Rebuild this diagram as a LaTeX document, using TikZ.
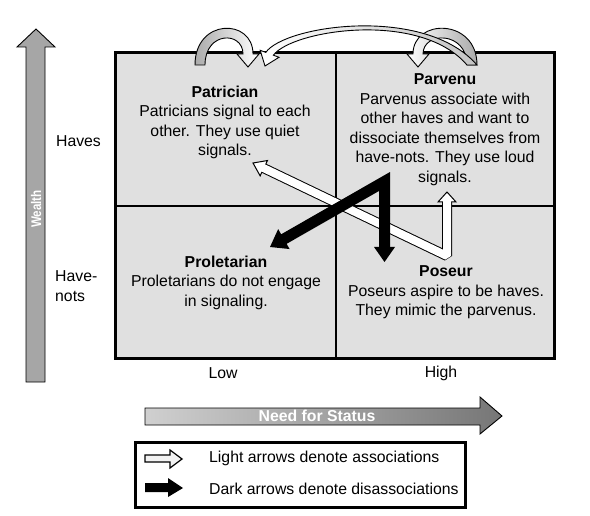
\documentclass[tikz,border=0pt]{standalone}
\usepackage{fontspec}
\setmainfont{Liberation Sans}
\usetikzlibrary{calc}
\definecolor{boxgray}{RGB}{224,224,224}
\definecolor{wealthgray}{RGB}{166,166,166}
\definecolor{needleft}{RGB}{208,208,208}
\definecolor{needright}{RGB}{118,118,118}
\definecolor{loopgray}{RGB}{170,170,170}
\definecolor{iconlight}{RGB}{242,242,242}
\begin{document}
\begin{tikzpicture}[x=1pt,y=-1pt,
  txt/.style={font=\fontsize{15.8}{19.5}\selectfont, align=center, inner sep=0pt},
  lbl/.style={font=\fontsize{15.8}{19.5}\selectfont, inner sep=0pt},
  axislbl/.style={font=\bfseries\fontsize{15.8}{19}\selectfont, text=white, inner sep=0pt},
  outline/.style={draw=black, line width=0.9pt, line join=miter}]
\useasboundingbox (0,0) rectangle (590,516);

% quadrant box
\draw[line width=3pt, fill=boxgray] (115,53) rectangle (554,358);
\draw[line width=2.5pt] (336,53) -- (336,358);
\draw[line width=2.5pt] (115,206) -- (554,206);

% wealth axis
\draw[outline, fill=wealthgray] (26,382) -- (26,47) -- (17,47) -- (36,29) -- (55,47) -- (45,47) -- (45,382) -- cycle;
\node[font=\bfseries\fontsize{14}{16}\selectfont, text=white, inner sep=0pt, rotate=90] (wealth) at (36,209) {\scalebox{0.83}[1]{Wealth}};
\node[lbl] (haves) at (78.5,141) {Haves};
\node[lbl, align=left, anchor=west] (havenots) at (55,286) {Have-\\nots};

% need for status axis
\shadedraw[outline, left color=needleft, right color=needright] (145,408) -- (480,408) -- (480,397) -- (502,416) -- (480,434) -- (480,425) -- (145,425) -- cycle;
\node[axislbl] (need) at (317,416) {Need for Status};
\node[lbl] (low) at (223,373) {Low};
\node[lbl] (high) at (441,373) {High};

% cell texts
\node[txt] (patr) at (225,122.5) {\textbf{Patrician}\\Patricians signal to each\\other. They use quiet\\signals.};
\node[txt] (parv) at (445,129.5) {\textbf{Parvenu}\\Parvenus associate with\\other haves and want to\\dissociate themselves from\\have-nots. They use loud\\signals.};
\node[txt] (prol) at (226,282.5) {\textbf{Proletarian}\\Proletarians do not engage\\in signaling.};
\node[txt] (pos) at (446,292.5) {\textbf{Poseur}\\Poseurs aspire to be haves.\\They mimic the parvenus.};

% top curved arrows
\shadedraw[outline, left color=loopgray, right color=white]
  (195,65) .. controls (195,18) and (253,18) .. (253,54) -- (259,54) -- (248,67) -- (237,54) -- (243,54)
  .. controls (243,31) and (205,31) .. (205,65) -- cycle;
\shadedraw[outline, left color=white, right color=loopgray]
  (477,65) .. controls (477,18) and (413,18) .. (413,54) -- (407,54) -- (418,67) -- (429,54) -- (423,54)
  .. controls (423,31) and (467,31) .. (467,65) -- cycle;
\shadedraw[outline, left color=white, right color=loopgray!70]
  (265.8,52.4) .. controls (285,25) and (425,5) .. (477,65) -- (467,65)
  .. controls (420,10) and (292,30) .. (273.4,55.2) -- (279,57.3) -- (265,66) -- (260.2,50.3) -- cycle;

% light (association) arrow
\coordinate (WT1) at (253,163);
\coordinate (WC) at (447,256);
\coordinate (WT2) at (447,192);
\coordinate (WB1) at ($(WT1)!12pt!(WC)$);
\coordinate (WB2) at ($(WT2)!10pt!(WC)$);
\draw[line width=10pt, line join=bevel] (WB1) -- (WC) -- (WB2);
\filldraw[fill=white, line width=1pt, line join=miter] ($(WB1)!8.5pt!90:(WT1)$) -- (WT1) -- ($(WB1)!8.5pt!-90:(WT1)$) -- cycle;
\filldraw[fill=white, line width=1pt, line join=miter] ($(WB2)!9pt!90:(WT2)$) -- (WT2) -- ($(WB2)!9pt!-90:(WT2)$) -- cycle;
\draw[line width=8pt, white, line join=bevel] ($(WB1)!-1.5pt!(WC)$) -- (WC) -- ($(WB2)!-1.5pt!(WC)$);

% dark (disassociation) arrow
\coordinate (DT1) at (270,247);
\coordinate (DC) at (384.5,181.5);
\coordinate (DT2) at (384.5,262);
\coordinate (DB1) at ($(DT1)!16pt!(DC)$);
\coordinate (DB2) at ($(DT2)!15pt!(DC)$);
\draw[line width=11pt, line join=miter] ($(DB1)!-1pt!(DC)$) -- (DC) -- ($(DB2)!-1pt!(DC)$);
\fill ($(DB1)!11.5pt!90:(DT1)$) -- (DT1) -- ($(DB1)!11.5pt!-90:(DT1)$) -- cycle;
\fill ($(DB2)!10.5pt!90:(DT2)$) -- (DT2) -- ($(DB2)!10.5pt!-90:(DT2)$) -- cycle;

% legend
\draw[line width=3pt] (135,442) rectangle (465,507);
\draw[line width=1.2pt, fill=iconlight, line join=miter] (145,455) -- (170,455) -- (170,450) -- (182,459) -- (170,468) -- (170,462) -- (145,462) -- cycle;
\fill (145,483) -- (168,483) -- (168,478) -- (183,488) -- (168,497) -- (168,492) -- (145,492) -- cycle;
\node[lbl, anchor=west] (leglight) at (209,458) {Light arrows denote associations};
\node[lbl, anchor=west] (legdark) at (209,489) {Dark arrows denote disassociations};
\end{tikzpicture}
\end{document}
